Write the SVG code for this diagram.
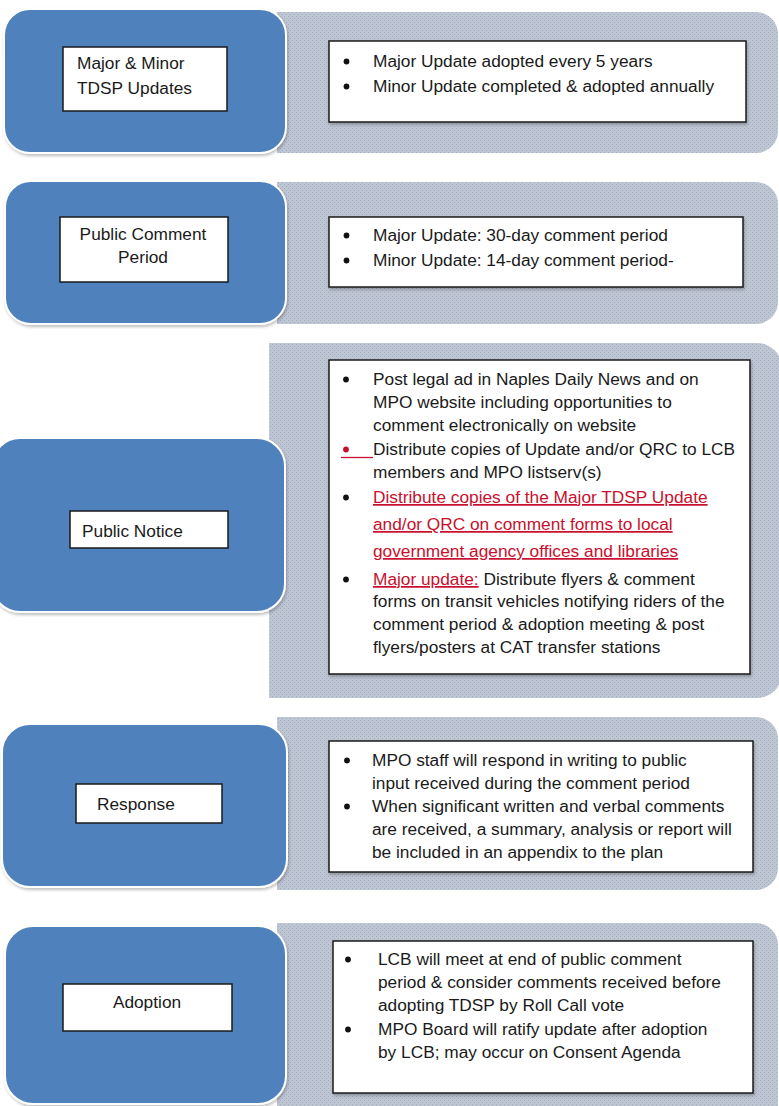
<svg xmlns="http://www.w3.org/2000/svg" width="779" height="1106" viewBox="0 0 779 1106">
<defs>
<pattern id="tex" width="4" height="4" patternUnits="userSpaceOnUse">
<rect width="4" height="4" fill="#bec5d3"/>
<rect x="0" y="0" width="1" height="1" fill="#a4adbf"/>
<rect x="2" y="2" width="1" height="1" fill="#a4adbf"/>
</pattern>
<filter id="sh" x="-5%" y="-5%" width="115%" height="120%">
<feDropShadow dx="1" dy="2" stdDeviation="1.5" flood-color="#000" flood-opacity="0.25"/>
</filter>
</defs>
<style>
.panel{fill:url(#tex);}
.step{fill:#4f81bd;stroke:#ffffff;stroke-width:2;}
.lbl{fill:#ffffff;stroke:#1a1a1a;stroke-width:1.5;}
.box{fill:#ffffff;stroke:#1a1a1a;stroke-width:1.5;}
.b{fill:#111111;}
.rb{fill:#c8102e;}
text{font-family:"Liberation Sans",Arial,sans-serif;font-size:17.3px;fill:#1a1a1a;}
.c{text-anchor:middle;}
.red{fill:#c8102e;}
.u{text-decoration:underline;}
</style>

<g id="connectors"></g>

<!-- Row 1 -->
<g id="panel-updates">
<path class="panel" d="M277,12 H756 A22,22 0 0 1 778,34 V131 A22,22 0 0 1 756,153 H277 Z"/>
<rect class="box" x="329" y="41" width="417" height="81" filter="url(#sh)"/>
<circle class="b" cx="346.5" cy="61.5" r="2.9"/><text x="373" y="67">Major Update adopted every 5 years</text>
<circle class="b" cx="346.5" cy="86.5" r="2.9"/><text x="373" y="92">Minor Update completed &amp; adopted annually</text>
</g>
<g id="node-updates">
<rect class="step" x="4" y="9" width="282" height="144" rx="26" filter="url(#sh)"/>
<rect class="lbl" x="63" y="47" width="164" height="64"/>
<text x="77" y="69">Major &amp; Minor</text>
<text x="77" y="94">TDSP Updates</text>
</g>

<!-- Row 2 -->
<g id="panel-comment">
<path class="panel" d="M277,182 H756 A22,22 0 0 1 778,204 V302 A22,22 0 0 1 756,324 H277 Z"/>
<rect class="box" x="329" y="217" width="414" height="70" filter="url(#sh)"/>
<circle class="b" cx="346.5" cy="235.5" r="2.9"/><text x="373" y="241">Major Update: 30-day comment period</text>
<circle class="b" cx="346.5" cy="260.5" r="2.9"/><text x="373" y="266">Minor Update: 14-day comment period-</text>
</g>
<g id="node-comment">
<rect class="step" x="5" y="181" width="281" height="143" rx="26" filter="url(#sh)"/>
<rect class="lbl" x="60" y="217" width="168" height="65"/>
<text class="c" x="143" y="240">Public Comment</text>
<text class="c" x="143" y="263">Period</text>
</g>

<!-- Row 3 -->
<g id="panel-notice">
<path class="panel" d="M269,343 H757 A25,25 0 0 1 782,368 V673 A25,25 0 0 1 757,698 H269 Z"/>
<rect class="box" x="329" y="360" width="421" height="314" filter="url(#sh)"/>
<circle class="b" cx="346" cy="379.5" r="2.9"/><text x="373" y="385">Post legal ad in Naples Daily News and on</text>
<text x="373" y="408">MPO website including opportunities to</text>
<text x="373" y="431">comment electronically on website</text>
<circle class="rb" cx="346" cy="449.5" r="2.9"/>
<line x1="341" y1="457.5" x2="373" y2="457.5" stroke="#c8102e" stroke-width="1.3"/>
<text x="373" y="455">Distribute copies of Update and/or QRC to LCB</text>
<text x="373" y="478">members and MPO listserv(s)</text>
<circle class="b" cx="346" cy="497.5" r="2.9"/><text class="red u" x="373" y="503">Distribute copies of the Major TDSP Update</text>
<text class="red u" x="373" y="530">and/or QRC on comment forms to local</text>
<text class="red u" x="373" y="557">government agency offices and libraries</text>
<circle class="b" cx="346" cy="579.5" r="2.9"/><text x="373" y="585"><tspan class="red u">Major update:</tspan> Distribute flyers &amp; comment</text>
<text x="373" y="607">forms on transit vehicles notifying riders of the</text>
<text x="373" y="630">comment period &amp; adoption meeting &amp; post</text>
<text x="373" y="653">flyers/posters at CAT transfer stations</text>
</g>
<g id="node-notice">
<rect class="step" x="-8" y="438" width="293" height="174" rx="28" filter="url(#sh)"/>
<rect class="lbl" x="70" y="511" width="158" height="37"/>
<text x="82" y="537">Public Notice</text>
</g>

<!-- Row 4 -->
<g id="panel-response">
<path class="panel" d="M277,717 H756 A22,22 0 0 1 778,739 V868 A22,22 0 0 1 756,890 H277 Z"/>
<rect class="box" x="329" y="741" width="424" height="131" filter="url(#sh)"/>
<circle class="b" cx="347" cy="760.5" r="2.9"/><text x="372" y="766">MPO staff will respond in writing to public</text>
<text x="372" y="789">input received during the comment period</text>
<circle class="b" cx="347" cy="806.5" r="2.9"/><text x="372" y="812">When significant written and verbal comments</text>
<text x="372" y="835">are received, a summary, analysis or report will</text>
<text x="372" y="858">be included in an appendix to the plan</text>
</g>
<g id="node-response">
<rect class="step" x="2" y="724" width="285" height="163" rx="28" filter="url(#sh)"/>
<rect class="lbl" x="76" y="784" width="146" height="39"/>
<text x="97" y="810">Response</text>
</g>

<!-- Row 5 -->
<g id="panel-adoption">
<path class="panel" d="M277,923 H756 A22,22 0 0 1 778,945 V1120 H277 Z"/>
<rect class="box" x="333" y="941" width="420" height="152" filter="url(#sh)"/>
<circle class="b" cx="348" cy="959.5" r="2.9"/><text x="378" y="965">LCB will meet at end of public comment</text>
<text x="378" y="988">period &amp; consider comments received before</text>
<text x="378" y="1011">adopting TDSP by Roll Call vote</text>
<circle class="b" cx="348" cy="1029.5" r="2.9"/><text x="378" y="1035">MPO Board will ratify update after adoption</text>
<text x="378" y="1058">by LCB; may occur on Consent Agenda</text>
</g>
<g id="node-adoption">
<rect class="step" x="5" y="926" width="281" height="178" rx="28" filter="url(#sh)"/>
<rect class="lbl" x="63" y="984" width="169" height="47"/>
<text class="c" x="147" y="1008">Adoption</text>
</g>
</svg>
